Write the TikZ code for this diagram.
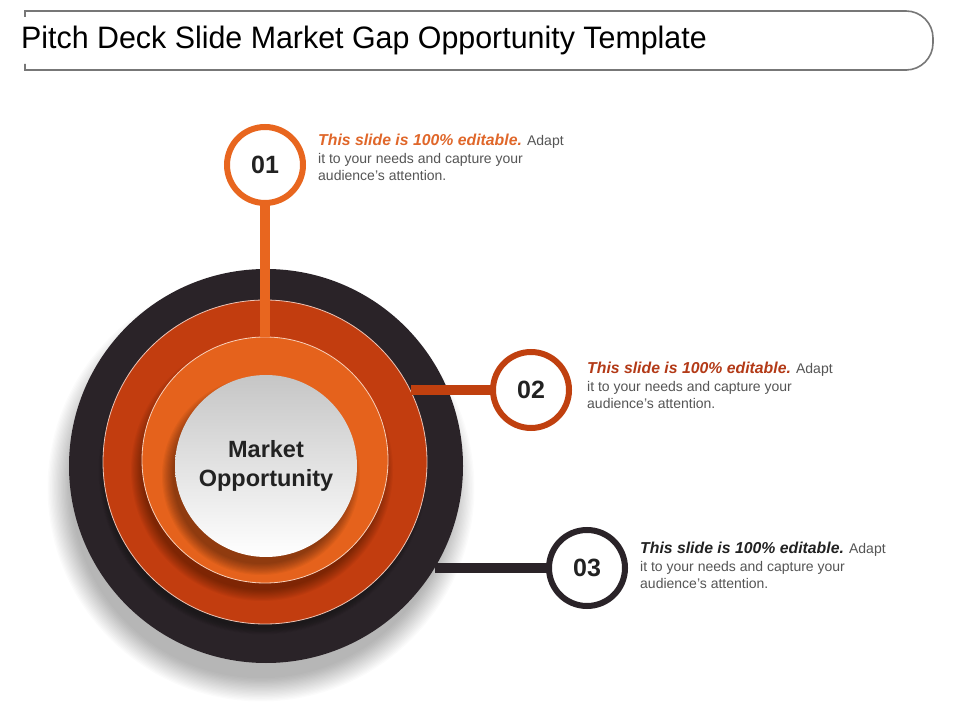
\documentclass[tikz,border=0pt]{standalone}
\usepackage{fontspec}
\setmainfont{Liberation Sans}
\usetikzlibrary{calc}
\definecolor{darkc}{HTML}{2A2328}
\definecolor{redc}{HTML}{C23D0F}
\definecolor{orangec}{HTML}{E5621C}
\definecolor{ringA}{HTML}{E8661F}
\definecolor{ringB}{HTML}{C0400F}
\definecolor{headA}{HTML}{E0672A}
\definecolor{headB}{HTML}{B33A17}
\definecolor{headC}{HTML}{222222}
\definecolor{bodyc}{HTML}{555555}
\definecolor{framec}{HTML}{777777}
\begin{document}
\begin{tikzpicture}[x=1pt,y=1pt,
  disc/.style={circle,inner sep=0pt,outer sep=0pt},
  numring/.style={circle,inner sep=0pt,outer sep=0pt,fill=white,line width=6pt,minimum size=76pt,
     font=\fontsize{25}{28}\selectfont\bfseries,text=headC},
  infotext/.style={anchor=north west,inner sep=0pt,align=left,text=bodyc,
     font=\fontsize{14}{17.5}\selectfont},
  link/.style={line width=10pt}
]
\newcommand{\headline}[1]{{\fontsize{15.8}{17.5}\selectfont\bfseries\itshape\color{#1}This slide is 100\% editable.}}
\useasboundingbox (0,0) rectangle (960,720);
\fill[white] (0,0) rectangle (960,720);

% title frame
\draw[framec,line width=1.6pt] (25,703) -- (25,709) -- (880,709)
   [rounded corners=27pt] -- (933,709) -- (933,650) -- (880,650)
   [sharp corners] -- (25,650) -- (25,656);
\node[anchor=west,inner sep=0pt] (title) at (21,680)
   {\scalebox{0.98}[1]{\fontsize{31}{36}\selectfont Pitch Deck Slide Market Gap Opportunity Template}};

% shadow of outer disc
\foreach \k in {0,...,18}
  \fill[black,opacity=0.017] (261,232) circle ({190+\k*1.3});

\node[disc,fill=darkc,minimum size=394pt] (outer) at (266,254) {};
% shadow of red disc
\foreach \k in {0,...,8}
  \fill[black,opacity=0.03] (263,250) circle ({158+\k*0.8});
\node[disc,fill=redc,minimum size=324pt,draw=white!70!redc,line width=0.8pt] (red) at (265,258) {};
% shadow of orange disc
\foreach \k in {0,...,10}
  \fill[black,opacity=0.035] (262,250) circle ({120+\k*1.1});
\node[disc,fill=orangec,minimum size=246pt,draw=white!70!orangec,line width=0.8pt] (orange) at (265,260) {};
% shadow of centre disc
\foreach \k in {0,...,10}
  \fill[black,opacity=0.04] (261,244) circle ({88+\k*1.1});
\node[disc,minimum size=182pt,top color=gray!45,bottom color=white,
      align=center,text=headC,font=\fontsize{23.5}{29}\selectfont\bfseries] (centre) at (266,254)
      {Market\\Opportunity};

% number rings
\node[numring,draw=ringA] (n1) at (265,555) {01};
\node[numring,draw=ringB] (n2) at (531,330) {02};
\node[numring,draw=darkc] (n3) at (587,152) {03};

% connectors
\draw[link,ringA] (n1.south) -- (orange.north);
\draw[link,ringB] (n2.west) -- (n2.west -| red.26.4);
\draw[link,darkc] (n3.west) -- (n3.west -| outer.-31.2);

% texts
\node[infotext] (t1) at (318,586)
 {\headline{headA} Adapt\\ it to your needs and capture your\\audience's attention.};
\node[infotext] (t2) at (587,358)
 {\headline{headB} Adapt\\ it to your needs and capture your\\audience's attention.};
\node[infotext] (t3) at (640,178)
 {\headline{headC} Adapt\\ it to your needs and capture your\\audience's attention.};
\end{tikzpicture}
\end{document}
